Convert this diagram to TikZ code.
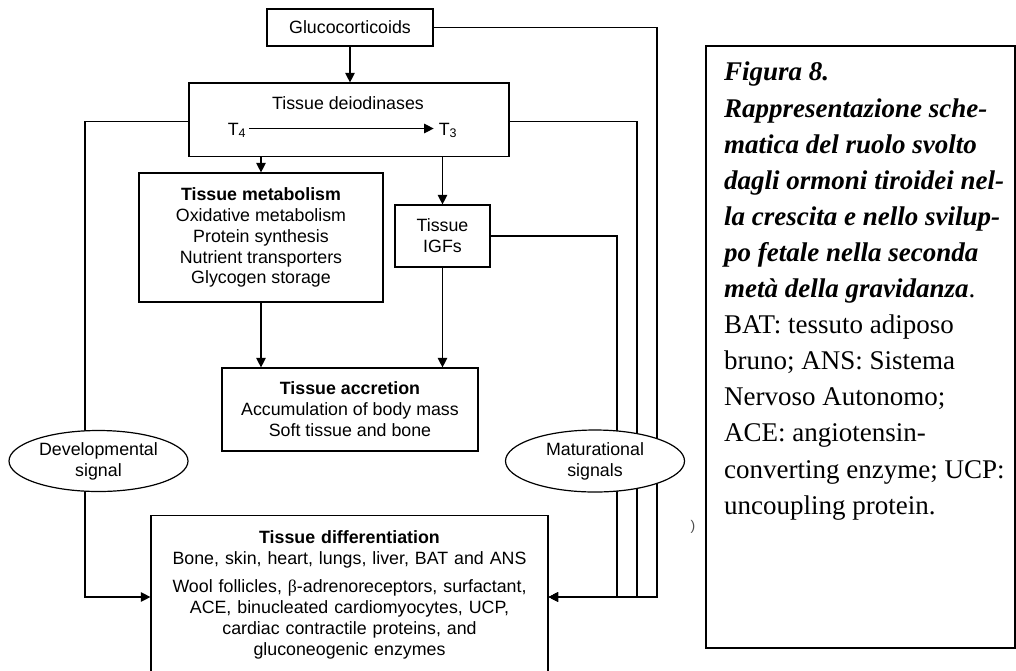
\documentclass[tikz,border=0pt]{standalone}
\usepackage{fontspec}
\setmainfont{Liberation Serif}
\setsansfont{Liberation Sans}
\usetikzlibrary{arrows.meta,shapes.geometric,calc}
\newcommand\capbi[1]{{\bfseries\itshape #1}}
\begin{document}
\begin{tikzpicture}[x=1pt,y=-1pt,
  every node/.style={font=\sffamily\fontsize{17.8}{20.9}\selectfont, inner sep=0pt},
  box/.style={draw, line width=1.2pt, align=center},
  oval/.style={draw, ellipse, line width=1.2pt, fill=white, align=center, inner sep=0pt},
  conn/.style={line width=1.2pt},
  arr/.style={conn, -{Triangle[length=9.5pt,width=9.5pt]}},
]
\useasboundingbox (0,0) rectangle (1016,670);
\clip (0,0) rectangle (1016,670);

% boxes
\node[box, minimum width=166pt, minimum height=37pt] (gluco) at (350,27.5) {Glucocorticoids};
\node[box, minimum width=320pt, minimum height=73.5pt] (deio) at (349,119.75) {};
\node (deiot) at (348,103) {Tissue deiodinases};
\node[anchor=base] (t4) at (237,135) {T\textsubscript{4}};
\node[anchor=base] (t3) at (448,135) {T\textsubscript{3}};
\node[box, minimum width=244pt, minimum height=129pt] (meta) at (261,237.5)
  {\textbf{Tissue metabolism}\\Oxidative metabolism\\Protein synthesis\\Nutrient transporters\\Glycogen storage};
\node[box, minimum width=95pt, minimum height=62pt] (igf) at (442.5,236) {Tissue\\IGFs};
\node[box, minimum width=256pt, minimum height=83pt] (accr) at (350,409.5)
  {\textbf{Tissue accretion}\\Accumulation of body mass\\Soft tissue and bone};
\node[box, anchor=north, text width=397pt] (diff) at (349.5,515)
  {\rule{0pt}{28pt}\textbf{Tissue differentiation}\\
   Bone, skin, heart, lungs, liver, BAT and ANS\\[7pt]
   Wool follicles, {\rmfamily β}-adrenoreceptors, surfactant,\\
   ACE, binucleated cardiomyocytes, UCP,\\
   cardiac contractile proteins, and\\
   gluconeogenic enzymes\\
   \rule{0pt}{60pt}};

% connector corners
\coordinate (yb) at (0,597);
\coordinate (cl) at (85,597);
\coordinate (c1) at (617,597);
\coordinate (c2) at (637,597);
\coordinate (c3) at (657,597);

% connectors
\draw[arr] ([shift={(3pt,6.5pt)}]t4.base east) -- ([shift={(-5pt,6.5pt)}]t3.base west);
\draw[arr] (gluco.south) -- (gluco.south |- deio.north);
\draw[arr] (deio.south -| meta.north) -- (meta.north);
\draw[arr] (deio.south -| igf.north) -- (igf.north);
\draw[arr] (meta.south) -- (meta.south |- accr.north);
\draw[arr] (igf.south) -- (igf.south |- accr.north);
\draw[arr] ([yshift=-2pt]deio.west) -| (cl) -- (diff.west |- yb);
\draw[arr] (igf.east) -| (c1) -- (diff.east |- yb);
\draw[arr] ([yshift=-2pt]deio.east) -| (c2) -- (diff.east |- yb);
\draw[arr] (gluco.east) -| (c3) -- (diff.east |- yb);

% signal ellipses
\node[oval, minimum width=179pt, minimum height=61pt] (dev) at (98.5,461) {Developmental\\signal};
\node[oval, minimum width=179pt, minimum height=62pt] (mat) at (595,461) {Maturational\\signals};

\node[font=\sffamily\fontsize{14}{15}\selectfont, text=black!70] (paren) at (693,527) {)};

% caption
\node[draw, line width=1.5pt, minimum width=309pt, minimum height=602pt, anchor=north west] (capbox) at (705,45) {};
\node[anchor=north west, align=left, font=\rmfamily\fontsize{27}{36.1}\selectfont] (captext) at (724,62)
  {\capbi{Figura 8.}\\
   \capbi{Rappresentazione sche-}\\
   \capbi{matica del ruolo svolto}\\
   \capbi{dagli ormoni tiroidei nel-}\\
   \capbi{la crescita e nello svilup-}\\
   \capbi{po fetale nella seconda}\\
   \capbi{metà della gravidanza}.\\
   BAT: tessuto adiposo\\
   bruno; ANS: Sistema\\
   Nervoso Autonomo;\\
   ACE: angiotensin-\\
   converting enzyme; UCP:\\
   uncoupling protein.};
\end{tikzpicture}
\end{document}
